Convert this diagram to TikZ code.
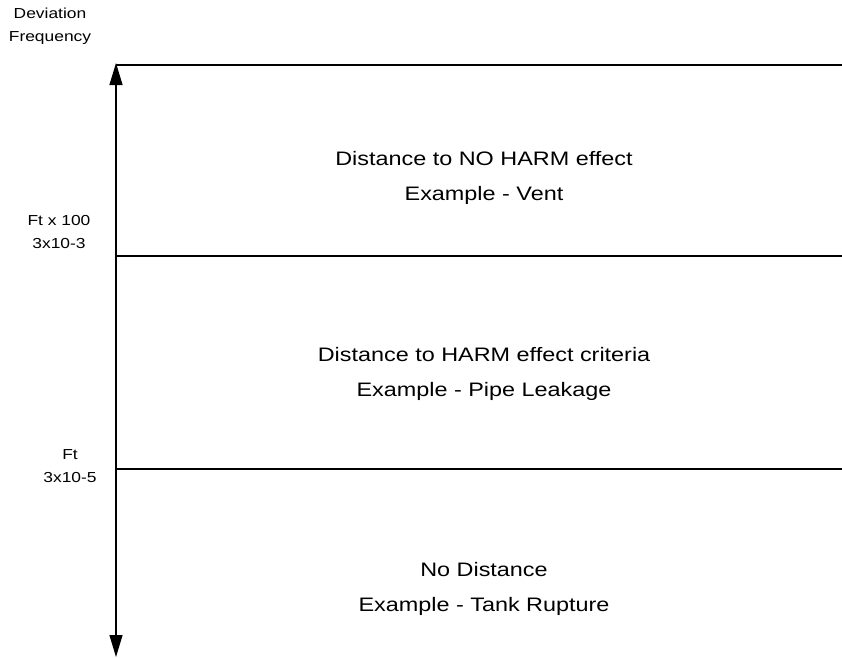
\documentclass[tikz,border=0pt]{standalone}
\usepackage{fontspec}
\setmainfont[FakeStretch=1.2]{Liberation Sans}
\usetikzlibrary{arrows.meta,positioning}

\tikzset{
  bandtext/.style={align=center, font=\fontsize{19.5}{35}\selectfont},
  axistext/.style={align=center, font=\fontsize{14.5}{23}\selectfont},
  bandline/.style={line width=1.1pt},
  axisline/.style={line width=1.2pt, {Triangle[length=22pt,width=13pt]}-{Triangle[length=22pt,width=13pt]}}
}

\begin{document}
\begin{tikzpicture}[x=1pt,y=-1pt]

  % Fix the size of the page
  \useasboundingbox (0,0) rectangle (842,657);

  % Position of the frequency axis
  \def\ax{116}
  \def\rx{842}

  % Ends of the axis
  \coordinate (axtop) at (\ax,63);
  \coordinate (axbot) at (\ax,657);

  % Band limits, left and right ends
  \coordinate (l0) at (\ax,65);
  \coordinate (r0) at (\rx,65);
  \coordinate (l1) at (\ax,256);
  \coordinate (r1) at (\rx,256);
  \coordinate (l2) at (\ax,469);
  \coordinate (r2) at (\rx,469);

  % Draw the axis with both arrow heads
  \draw[axisline] (axbot) -- (axtop);

  % Draw the band limits
  \draw[bandline] (l0) -- (r0);
  \draw[bandline] (l1) -- (r1);
  \draw[bandline] (l2) -- (r2);

  % Axis title
  \node[axistext] (title) at (50,26) {Deviation\\Frequency};

  % Frequency values at the band limits
  \node[axistext] (upper) at (59,232) {Ft x 100\\3x10-3};
  \node[axistext] (lower) at (70,466) {Ft\\3x10-5};

  % Texts inside the bands
  \node[bandtext] (noharm) at (484,178) {Distance to NO HARM effect\\Example - Vent};
  \node[bandtext] (harm) at (484,374) {Distance to HARM effect criteria\\Example - Pipe Leakage};
  \node[bandtext] (nodist) at (484,589) {No Distance\\Example - Tank Rupture};

\end{tikzpicture}
\end{document}
